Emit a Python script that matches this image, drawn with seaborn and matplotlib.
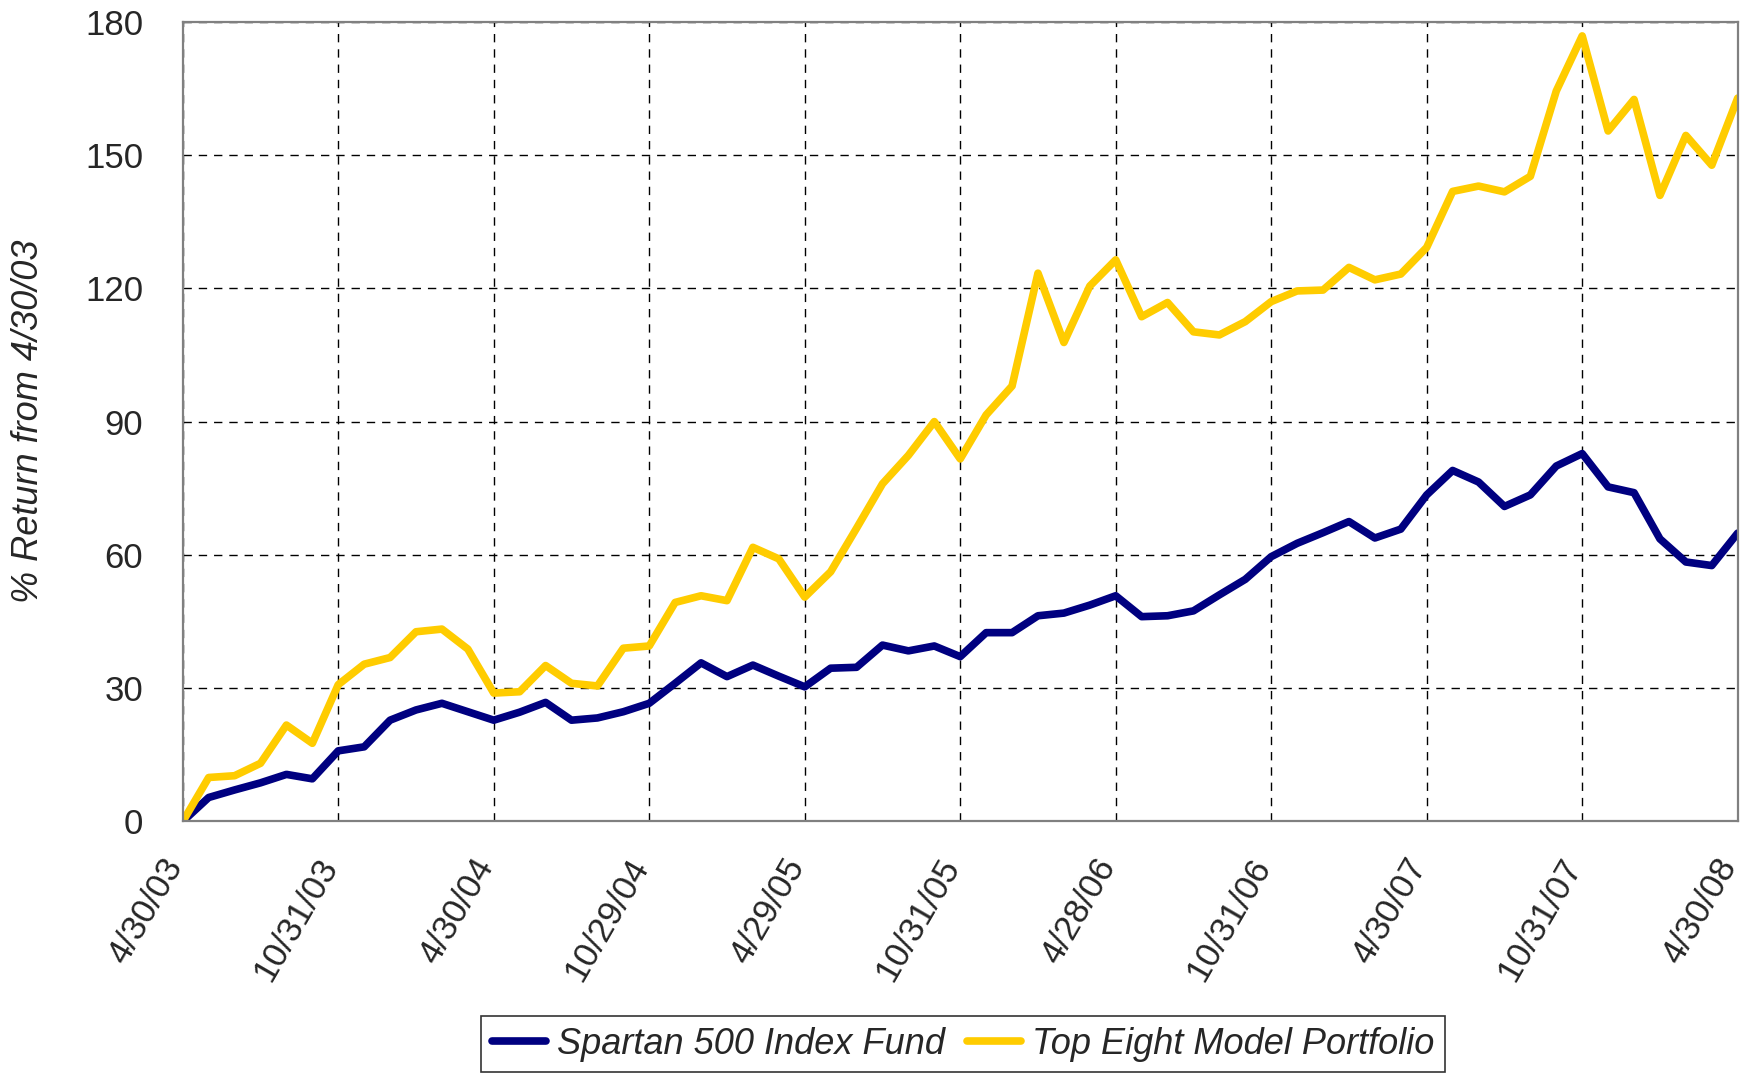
import numpy as np
import pandas as pd
import matplotlib
matplotlib.use("Agg")
import matplotlib.pyplot as plt
import seaborn as sns

# monthly % return from 4/30/03
spartan = [0, 5.4, 7.1, 8.7, 10.6, 9.6, 15.9, 16.8, 22.8, 25.1, 26.6, 24.7, 22.8,
           24.6, 26.8, 22.8, 23.3, 24.7, 26.6, 31.1, 35.7, 32.6, 35.2, 32.7, 30.3,
           34.5, 34.7, 39.7, 38.4, 39.5, 37.1, 42.5, 42.5, 46.3, 46.9, 48.7, 50.8,
           46.1, 46.3, 47.4, 51.0, 54.5, 59.6, 62.6, 65.0, 67.5, 63.8, 65.8, 73.5,
           79.0, 76.4, 70.9, 73.5, 80.0, 82.8, 75.3, 74.0, 63.6, 58.4, 57.6, 64.9]
top_eight = [0, 9.9, 10.3, 13.1, 21.7, 17.6, 30.8, 35.4, 36.9, 42.7, 43.3, 38.8, 28.9,
             29.2, 35.1, 31.1, 30.5, 39.0, 39.5, 49.3, 50.8, 49.7, 61.7, 59.1, 50.5,
             56.2, 66.0, 76.0, 82.4, 90.0, 81.6, 91.5, 98.0, 123.4, 107.8, 120.5, 126.4,
             113.6, 116.8, 110.2, 109.5, 112.5, 117.0, 119.4, 119.6, 124.7, 121.9, 123.2, 129.2,
             141.8, 143.0, 141.7, 145.2, 164.4, 176.8, 155.4, 162.5, 140.9, 154.4, 147.7, 162.8]
months = list(range(len(spartan)))
tick_labels = ["4/30/03", "10/31/03", "4/30/04", "10/29/04", "4/29/05", "10/31/05",
               "4/28/06", "10/31/06", "4/30/07", "10/31/07", "4/30/08"]
y_ticks = [0, 30, 60, 90, 120, 150, 180]
series_names = ["Spartan 500 Index Fund", "Top Eight Model Portfolio"]
colors = ["#000080", "#FFCC00"]

df = pd.DataFrame({
    "month": months * 2,
    "ret": spartan + top_eight,
    "series": [series_names[0]] * len(spartan) + [series_names[1]] * len(top_eight),
})

sns.set_style("white")
plt.rcParams["font.family"] = ["Liberation Sans", "DejaVu Sans"]

fig = plt.figure(figsize=(17.54, 10.73), dpi=100)
ax = fig.add_axes([0.1042, 0.2344, 0.8865, 0.7454])

sns.lineplot(data=df, x="month", y="ret", hue="series", palette=colors,
             linewidth=5.5, ax=ax, legend=True)

ax.set_xlim(0, 60)
ax.set_ylim(0, 180)
ax.set_xticks(range(0, 61, 6))
ax.set_xticklabels(tick_labels, rotation=60, ha="right", va="baseline",
                   rotation_mode="anchor", fontsize=25)
ax.set_yticks(y_ticks)
ax.set_yticklabels([str(v) for v in y_ticks], fontsize=25)
ax.tick_params(axis="x", direction="out", length=8.6, width=1.2, color="#606060", pad=23)
ax.tick_params(axis="y", direction="out", length=8.6, width=1.2, color="#606060", pad=20)
ax.set_xlabel("")
ax.set_ylabel("% Return from 4/30/03", fontsize=26, style="italic")
ax.yaxis.set_label_coords(-0.088, 0.5)

ax.grid(True, linestyle=(0, (6, 5)), color="black", linewidth=1.0)
ax.set_axisbelow(True)
for s in ax.spines.values():
    s.set_color("#808080")
    s.set_linewidth(1.6)
    s.set_visible(True)

handles, labels = ax.get_legend_handles_labels()
leg = fig.legend(handles, labels, loc="center", bbox_to_anchor=(0.549, 0.027), ncol=2,
                 frameon=True, fancybox=False, prop={"size": 26, "style": "italic"},
                 handlelength=1.5, handletextpad=0.3, columnspacing=0.6,
                 borderpad=0.3, edgecolor="black")
leg.get_frame().set_linewidth(1.2)
ax.get_legend().remove()
for line in leg.get_lines():
    line.set_linewidth(5.5)

fig.savefig("out.png", dpi=100)
